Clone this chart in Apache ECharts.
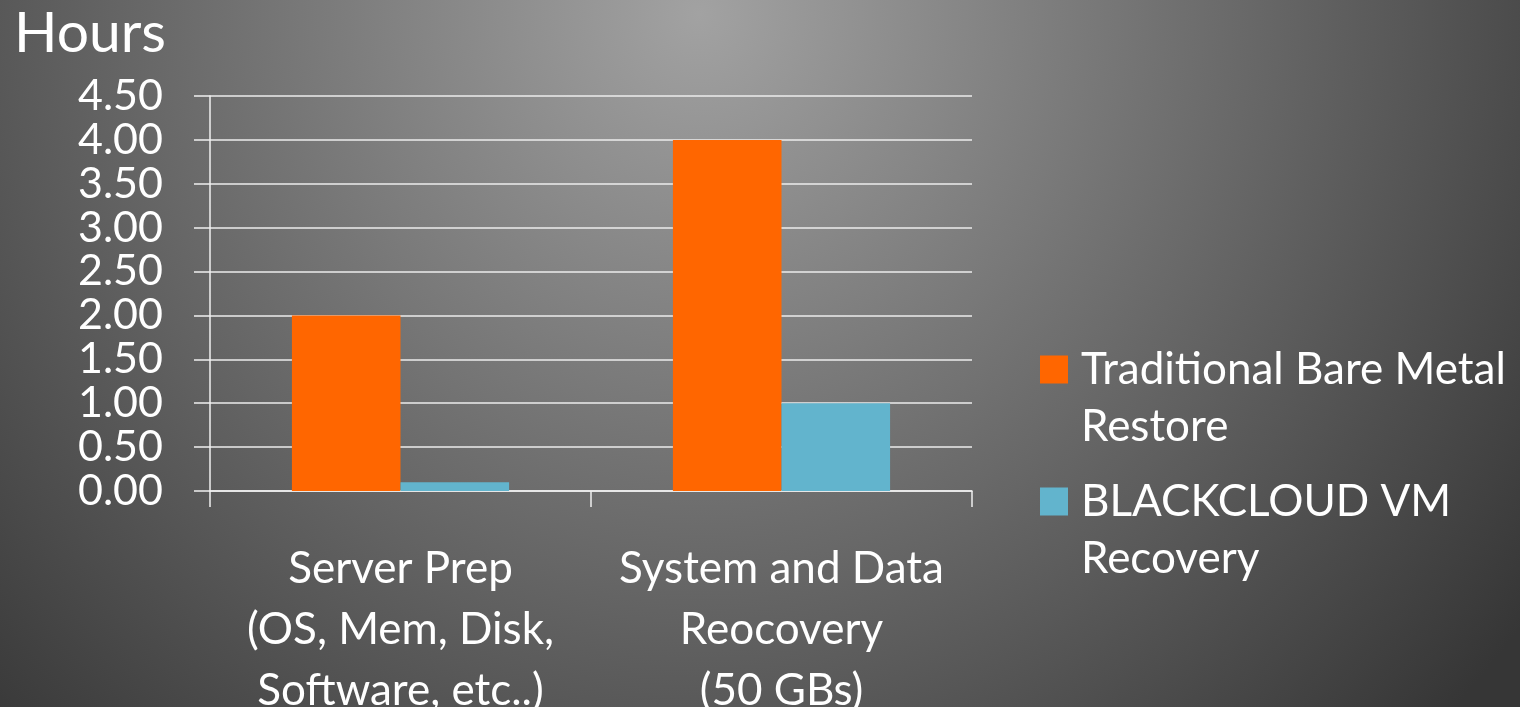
<!DOCTYPE html>
<html>
<head>
<meta charset="utf-8">
<script src="https://cdn.jsdelivr.net/npm/echarts@6/dist/echarts.min.js"></script>
<style>
  html, body { margin: 0; padding: 0; }
  #main { width: 1520px; height: 707px; }
</style>
</head>
<body>
<div id="main"></div>
<script>
// 数据
var categories = ['Server Prep\n(OS, Mem, Disk,\nSoftware, etc..)', 'System and Data\nReocovery\n(50 GBs)'];
var seriesNames = ['Traditional Bare Metal Restore', 'BLACKCLOUD VM Recovery'];
var legendLabels = ['Traditional Bare Metal\nRestore', 'BLACKCLOUD VM\nRecovery'];
var bareMetal = [2.0, 4.0];
var blackcloud = [0.1, 1.0];
var colors = ['#ff6600', '#62b4cd'];

var fontFamily = 'Lato, "Open Sans", sans-serif';
// 图例图标：方块只对齐第一行文字
var legendIcon = 'path://M0,0h0.01v0.01zM0,114h0.01v-0.01zM0,14.5h28v28h-28z';

var myChart = echarts.init(document.getElementById('main'));

var option = {
    backgroundColor: {
        type: 'radial',
        x: 0.46, y: 0.02, r: 1.45,
        colorStops: [
            { offset: 0, color: '#a2a2a2' },
            { offset: 1, color: '#363636' }
        ]
    },
    color: colors,
    animation: false,
    title: {
        text: 'Hours',
        left: 9,
        top: 0,
        textStyle: {
            color: '#fff',
            fontSize: 57,
            fontWeight: 'normal',
            fontFamily: fontFamily
        }
    },
    legend: {
        orient: 'vertical',
        left: 1035,
        top: 336,
        itemGap: 18,
        itemWidth: 28,
        itemHeight: 114,
        itemStyle: { borderWidth: 0 },
        data: seriesNames.map(function (n) { return { name: n, icon: legendIcon }; }),
        formatter: function (name) {
            return legendLabels[seriesNames.indexOf(name)];
        },
        textStyle: {
            color: '#fff',
            fontSize: 44,
            lineHeight: 57,
            padding: [0, 0, 0, 8],
            fontFamily: fontFamily
        }
    },
    grid: {
        left: 210,
        right: 548,
        top: 96,
        bottom: 216,
        containLabel: false,
        outerBoundsMode: 'none'
    },
    xAxis: {
        type: 'category',
        data: categories,
        axisLine: { lineStyle: { color: '#f0f0f0', width: 1.5 } },
        axisTick: { show: true, length: 16, lineStyle: { color: '#f0f0f0', width: 1.5 } },
        axisLabel: {
            color: '#fff',
            fontSize: 44,
            lineHeight: 61,
            margin: 47,
            fontFamily: fontFamily,
            interval: 0
        }
    },
    yAxis: {
        type: 'value',
        min: 0,
        max: 4.5,
        interval: 0.5,
        axisLine: { show: true, lineStyle: { color: '#f0f0f0', width: 1.5 } },
        axisTick: { show: true, length: 16, lineStyle: { color: '#f0f0f0', width: 1.5 } },
        splitLine: { lineStyle: { color: '#ececec', width: 1.5 } },
        axisLabel: {
            color: '#fff',
            fontSize: 43,
            margin: 47,
            fontFamily: fontFamily,
            formatter: function (v) { return v.toFixed(2); }
        }
    },
    series: [
        {
            name: seriesNames[0],
            type: 'bar',
            data: bareMetal,
            barGap: 0,
            barCategoryGap: '43%'
        },
        {
            name: seriesNames[1],
            type: 'bar',
            data: blackcloud,
            barGap: 0,
            barCategoryGap: '43%'
        }
    ]
};

myChart.setOption(option);
</script>
</body>
</html>
